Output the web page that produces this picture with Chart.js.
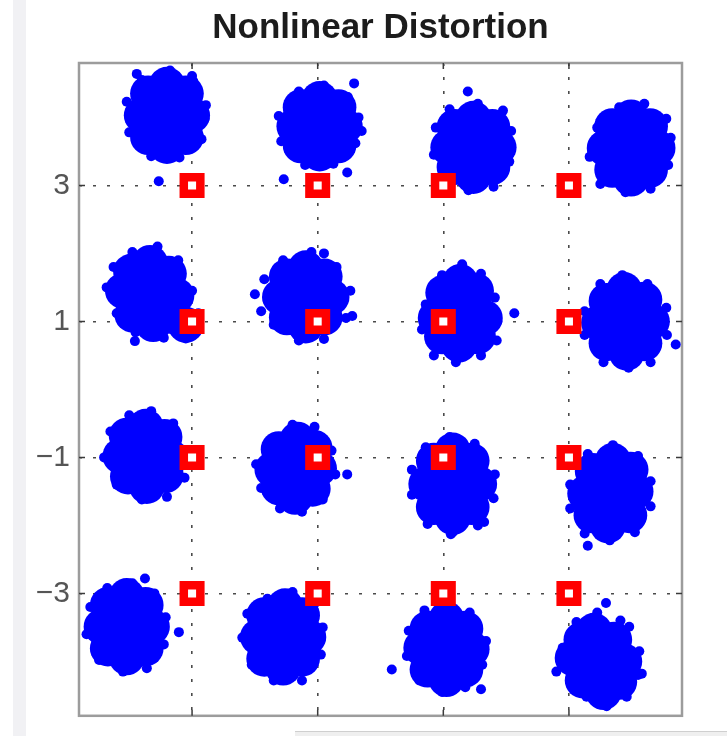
<!DOCTYPE html>
<html><head><meta charset="utf-8">
<script src="https://cdn.jsdelivr.net/npm/chart.js@4/dist/chart.umd.min.js"></script>
<style>
html,body{margin:0;padding:0;background:#fff;overflow:hidden;}
#wrap{position:relative;width:727px;height:736px;}
#strip{position:absolute;left:13px;top:0;width:13px;height:736px;background:#f1f1f4;}
#bar{position:absolute;left:295px;top:731px;width:432px;height:5px;background:#efefef;border-top:1px solid #cfcfcf;}
canvas{position:absolute;left:0;top:0;}
</style></head>
<body><div id="wrap"><div id="strip"></div><div id="bar"></div><canvas id="c" width="727" height="736"></canvas></div>
<script>
// Tick positions / labels
const tickValues = [-3, -1, 1, 3];
const yTickLabels = ['\u22123', '\u22121', '1', '3'];

// Ideal constellation points (red squares)
const idealPoints = [[-3,3],[-1,3],[1,3],[3,3],[-3,1],[-1,1],[1,1],[3,1],[-3,-1],[-1,-1],[1,-1],[3,-1],[-3,-3],[-1,-3],[1,-3],[3,-3]];

// Received (distorted) clouds: dense core points and spread/outlier points, per ideal symbol
const core_m3_p3 = [[-3.40,4.03],[-3.80,4.03],[-3.00,4.03],[-3.40,4.48],[-3.40,3.58],[-3.70,4.35],[-3.10,4.35],[-3.70,3.71],[-3.10,3.71]];
const spread_m3_p3 = [[-2.78,4.18],[-2.85,3.68],[-3.20,3.41],[-3.65,3.43],[-4.00,3.78],[-4.04,4.23],[-3.80,4.55],[-3.35,4.69],[-2.98,4.53],[-2.80,3.98],[-3.88,4.64],[-3.00,4.61],[-3.53,3.06]];
const core_m1_p3 = [[-0.97,3.87],[-1.37,3.87],[-0.57,3.87],[-0.97,4.27],[-0.97,3.47],[-1.27,4.15],[-0.67,4.15],[-1.27,3.59],[-0.67,3.59]];
const spread_m1_p3 = [[-0.35,4.00],[-0.40,3.62],[-0.75,3.32],[-1.20,3.30],[-1.58,3.65],[-1.62,4.02],[-1.30,4.38],[-0.90,4.47],[-0.52,4.30],[-0.30,3.80],[-0.42,4.50],[-1.54,3.09],[-0.53,3.19]];
const core_p1_p3 = [[1.48,3.56],[1.08,3.56],[1.88,3.56],[1.48,3.98],[1.48,3.14],[1.18,3.86],[1.78,3.86],[1.18,3.27],[1.78,3.27]];
const spread_p1_p3 = [[2.08,3.80],[2.05,3.35],[1.80,2.98],[1.40,2.93],[1.05,3.02],[0.85,3.45],[0.88,3.85],[1.10,4.12],[1.55,4.20],[1.95,4.10],[1.39,4.38]];
const core_p3_p3 = [[3.99,3.55],[3.57,3.55],[4.41,3.55],[3.99,4.00],[3.99,3.10],[3.69,3.87],[4.29,3.87],[3.69,3.23],[4.29,3.23]];
const spread_p3_p3 = [[4.62,3.70],[4.58,3.30],[4.30,2.95],[3.90,2.90],[3.50,3.02],[3.33,3.42],[3.45,3.85],[3.80,4.15],[4.20,4.20],[4.55,3.98]];

const core_m3_p1 = [[-3.67,1.41],[-4.10,1.45],[-3.25,1.38],[-3.67,1.86],[-3.62,0.96],[-3.97,1.73],[-3.37,1.70],[-3.95,1.10],[-3.33,1.08],[-3.10,0.95]];
const spread_m3_p1 = [[-4.36,1.50],[-4.25,1.80],[-3.95,2.02],[-3.55,2.10],[-3.22,1.90],[-3.00,1.45],[-2.90,1.12],[-3.10,0.75],[-3.45,0.76],[-3.90,0.84],[-4.20,1.12],[-3.91,0.71]];
const core_m1_p1 = [[-1.19,1.36],[-1.60,1.36],[-0.78,1.36],[-1.19,1.78],[-1.19,0.94],[-1.49,1.66],[-0.89,1.66],[-1.49,1.06],[-0.89,1.06]];
const spread_m1_p1 = [[-2.00,1.40],[-1.85,1.62],[-1.55,1.90],[-1.10,2.02],[-0.70,1.80],[-0.48,1.45],[-0.55,1.05],[-0.90,0.74],[-1.30,0.72],[-1.70,0.95],[-1.90,1.15],[-0.90,2.00],[-0.45,1.08]];
const core_p1_p1 = [[1.27,1.12],[0.88,1.05],[1.66,1.05],[1.27,1.58],[1.25,0.66],[1.00,1.42],[1.52,1.45],[0.98,0.78],[1.55,0.78]];
const spread_p1_p1 = [[1.86,1.00],[1.82,1.35],[1.60,1.70],[1.30,1.84],[0.98,1.68],[0.72,1.25],[0.66,0.88],[0.85,0.50],[1.20,0.40],[1.60,0.50],[1.85,0.72],[2.13,1.12]];
const core_p3_p1 = [[3.90,1.00],[3.48,0.98],[4.32,1.00],[3.88,1.46],[3.92,0.54],[3.60,1.30],[4.20,1.32],[3.60,0.68],[4.20,0.68]];
const spread_p3_p1 = [[4.55,1.20],[4.56,0.80],[4.30,0.40],[3.95,0.32],[3.55,0.40],[3.25,0.80],[3.25,1.15],[3.50,1.55],[3.85,1.68],[4.25,1.55],[4.70,0.66]];

const core_m3_m1 = [[-3.74,-0.98],[-4.14,-0.98],[-3.34,-1.00],[-3.74,-0.55],[-3.72,-1.42],[-4.04,-0.68],[-3.44,-0.70],[-4.02,-1.28],[-3.42,-1.26]];
const spread_m3_m1 = [[-3.10,-0.90],[-3.12,-1.30],[-3.40,-1.58],[-3.80,-1.62],[-4.20,-1.40],[-4.40,-1.00],[-4.30,-0.62],[-4.00,-0.38],[-3.65,-0.32],[-3.30,-0.50]];
const core_m1_m1 = [[-1.35,-1.16],[-1.72,-1.18],[-0.98,-1.16],[-1.32,-0.74],[-1.36,-1.58],[-1.62,-0.88],[-1.05,-0.86],[-1.62,-1.44],[-1.08,-1.46]];
const spread_m1_m1 = [[-0.72,-1.25],[-0.78,-0.90],[-1.05,-0.55],[-1.40,-0.52],[-1.75,-0.75],[-1.98,-1.10],[-1.90,-1.45],[-1.60,-1.75],[-1.25,-1.80],[-0.92,-1.62],[-0.53,-1.25]];
const core_p1_m1 = [[1.15,-1.39],[0.73,-1.39],[1.57,-1.39],[1.15,-0.90],[1.15,-1.88],[0.85,-1.05],[1.45,-1.05],[0.85,-1.73],[1.45,-1.73]];
const spread_p1_m1 = [[1.82,-1.25],[1.80,-1.60],[1.55,-2.00],[1.15,-2.10],[0.75,-1.98],[0.50,-1.55],[0.50,-1.18],[0.72,-0.85],[1.10,-0.70],[1.50,-0.80],[1.65,-1.95],[1.12,-2.13]];
const core_p3_m1 = [[3.66,-1.53],[3.26,-1.53],[4.06,-1.50],[3.70,-1.05],[3.62,-2.00],[3.38,-1.20],[3.98,-1.18],[3.36,-1.85],[3.96,-1.85]];
const spread_p3_m1 = [[4.30,-1.35],[4.30,-1.72],[4.05,-2.10],[3.65,-2.22],[3.25,-2.12],[3.02,-1.75],[3.02,-1.40],[3.30,-0.95],[3.70,-0.82],[4.10,-0.98],[3.30,-2.30]];

const core_m3_m3 = [[-4.04,-3.49],[-4.44,-3.49],[-3.64,-3.49],[-4.04,-3.04],[-4.04,-3.94],[-4.34,-3.17],[-3.74,-3.17],[-4.34,-3.81],[-3.74,-3.81]];
const spread_m3_m3 = [[-3.42,-3.35],[-3.45,-3.75],[-3.72,-4.10],[-4.10,-4.15],[-4.48,-3.98],[-4.68,-3.60],[-4.62,-3.20],[-4.35,-2.92],[-3.95,-2.85],[-3.60,-3.00],[-3.75,-2.78],[-3.21,-3.57]];
const core_m1_m3 = [[-1.55,-3.64],[-1.95,-3.64],[-1.15,-3.64],[-1.52,-3.19],[-1.55,-4.09],[-1.85,-3.32],[-1.25,-3.32],[-1.85,-3.96],[-1.25,-3.96]];
const spread_m1_m3 = [[-0.92,-3.50],[-0.95,-3.90],[-1.25,-4.28],[-1.70,-4.28],[-2.05,-4.05],[-2.20,-3.65],[-2.12,-3.30],[-1.80,-3.08],[-1.40,-2.98],[-1.05,-3.15]];
const core_p1_m3 = [[1.05,-3.82],[0.65,-3.80],[1.45,-3.82],[1.05,-3.38],[1.05,-4.26],[0.75,-3.52],[1.35,-3.52],[0.75,-4.12],[1.35,-4.12]];
const spread_p1_m3 = [[1.68,-3.70],[1.62,-4.05],[1.35,-4.38],[0.98,-4.45],[0.62,-4.28],[0.42,-3.92],[0.45,-3.55],[0.70,-3.25],[1.05,-3.15],[1.42,-3.28],[0.18,-4.12],[1.60,-4.41]];
const core_p3_m3 = [[3.46,-4.00],[3.06,-3.95],[3.88,-4.00],[3.40,-3.55],[3.55,-4.45],[3.20,-3.68],[3.72,-3.68],[3.22,-4.28],[3.80,-4.30]];
const spread_p3_m3 = [[4.12,-3.85],[4.10,-4.20],[3.92,-4.52],[3.60,-4.66],[3.28,-4.52],[2.80,-4.15],[2.90,-3.80],[3.12,-3.42],[3.45,-3.28],[3.82,-3.40],[3.59,-3.14],[3.96,-3.49],[4.16,-4.18]];

const coreClouds = [core_m3_p3, core_m1_p3, core_p1_p3, core_p3_p3, core_m3_p1, core_m1_p1, core_p1_p1, core_p3_p1,
  core_m3_m1, core_m1_m1, core_p1_m1, core_p3_m1, core_m3_m3, core_m1_m3, core_p1_m3, core_p3_m3];
const spreadClouds = [spread_m3_p3, spread_m1_p3, spread_p1_p3, spread_p3_p3, spread_m3_p1, spread_m1_p1, spread_p1_p1, spread_p3_p1,
  spread_m3_m1, spread_m1_m1, spread_p1_m1, spread_p3_m1, spread_m3_m3, spread_m1_m3, spread_p1_m3, spread_p3_m3];

const toXY = arr => arr.map(p => ({x: p[0], y: p[1]}));

const boxPlugin = {
  id: 'box',
  beforeDatasetsDraw(chart) {
    const {ctx, chartArea: a, scales} = chart;
    ctx.save();
    ctx.strokeStyle = '#9c9c9c';
    ctx.lineWidth = 2.5;
    ctx.strokeRect(a.left, a.top, a.right - a.left, a.bottom - a.top);
    ctx.strokeStyle = '#3a3a3a';
    ctx.lineWidth = 1.5;
    const tl = 6;
    tickValues.forEach(v => {
      const px = scales.x.getPixelForValue(v);
      const py = scales.y.getPixelForValue(v);
      ctx.beginPath();
      ctx.moveTo(px, a.top); ctx.lineTo(px, a.top + tl);
      ctx.moveTo(px, a.bottom); ctx.lineTo(px, a.bottom - tl);
      ctx.moveTo(a.left, py); ctx.lineTo(a.left + tl, py);
      ctx.moveTo(a.right, py); ctx.lineTo(a.right - tl, py);
      ctx.stroke();
    });
    ctx.restore();
  }
};

new Chart(document.getElementById('c'), {
  type: 'scatter',
  data: {
    datasets: [
      {
        label: 'Ideal', data: toXY(idealPoints), order: 0,
        pointStyle: 'rect', pointRadius: 11.7, borderWidth: 8.5,
        borderColor: '#ff0000', backgroundColor: '#ffffff'
      },
      {
        label: 'Received spread', data: toXY(spreadClouds.flat()), order: 1,
        pointStyle: 'circle', pointRadius: 5, borderWidth: 0,
        backgroundColor: '#0000ff'
      },
      {
        label: 'Received core', data: toXY(coreClouds.flat()), order: 2,
        pointStyle: 'circle', pointRadius: 18, borderWidth: 0,
        backgroundColor: '#0000ff'
      }
    ]
  },
  options: {
    responsive: false,
    animation: false,
    devicePixelRatio: 1,
    events: [],
    layout: { padding: { left: 0, right: 45, top: 7, bottom: 17 } },
    plugins: {
      legend: { display: false },
      tooltip: { enabled: false },
      title: {
        display: true, text: 'Nonlinear Distortion', fullSize: false,
        color: '#1c1c1c',
        font: { family: '"Liberation Sans", Arial, sans-serif', size: 35, weight: 'bold', lineHeight: 1.2 },
        padding: { top: 0, bottom: 14 }
      }
    },
    scales: {
      x: {
        type: 'linear', min: -4.8, max: 4.8,
        afterBuildTicks: s => { s.ticks = tickValues.map(v => ({value: v})); },
        afterFit: s => { s.height = 0; s.paddingLeft = 0; s.paddingRight = 0; },
        ticks: { display: false },
        grid: { color: '#4a4a4a', lineWidth: 1.6, drawTicks: false },
        border: { display: false, dash: [3, 11] }
      },
      y: {
        type: 'linear', min: -4.8, max: 4.8,
        afterBuildTicks: s => { s.ticks = tickValues.map(v => ({value: v})); },
        afterFit: s => { s.width = 79; s.paddingTop = 0; s.paddingBottom = 0; },
        ticks: {
          padding: 9, color: '#555555',
          font: { family: '"Liberation Sans", Arial, sans-serif', size: 30 },
          callback: v => yTickLabels[tickValues.indexOf(v)]
        },
        grid: { color: '#4a4a4a', lineWidth: 1.6, drawTicks: false },
        border: { display: false, dash: [3, 11] }
      }
    }
  },
  plugins: [boxPlugin]
});
</script>
</body></html>
